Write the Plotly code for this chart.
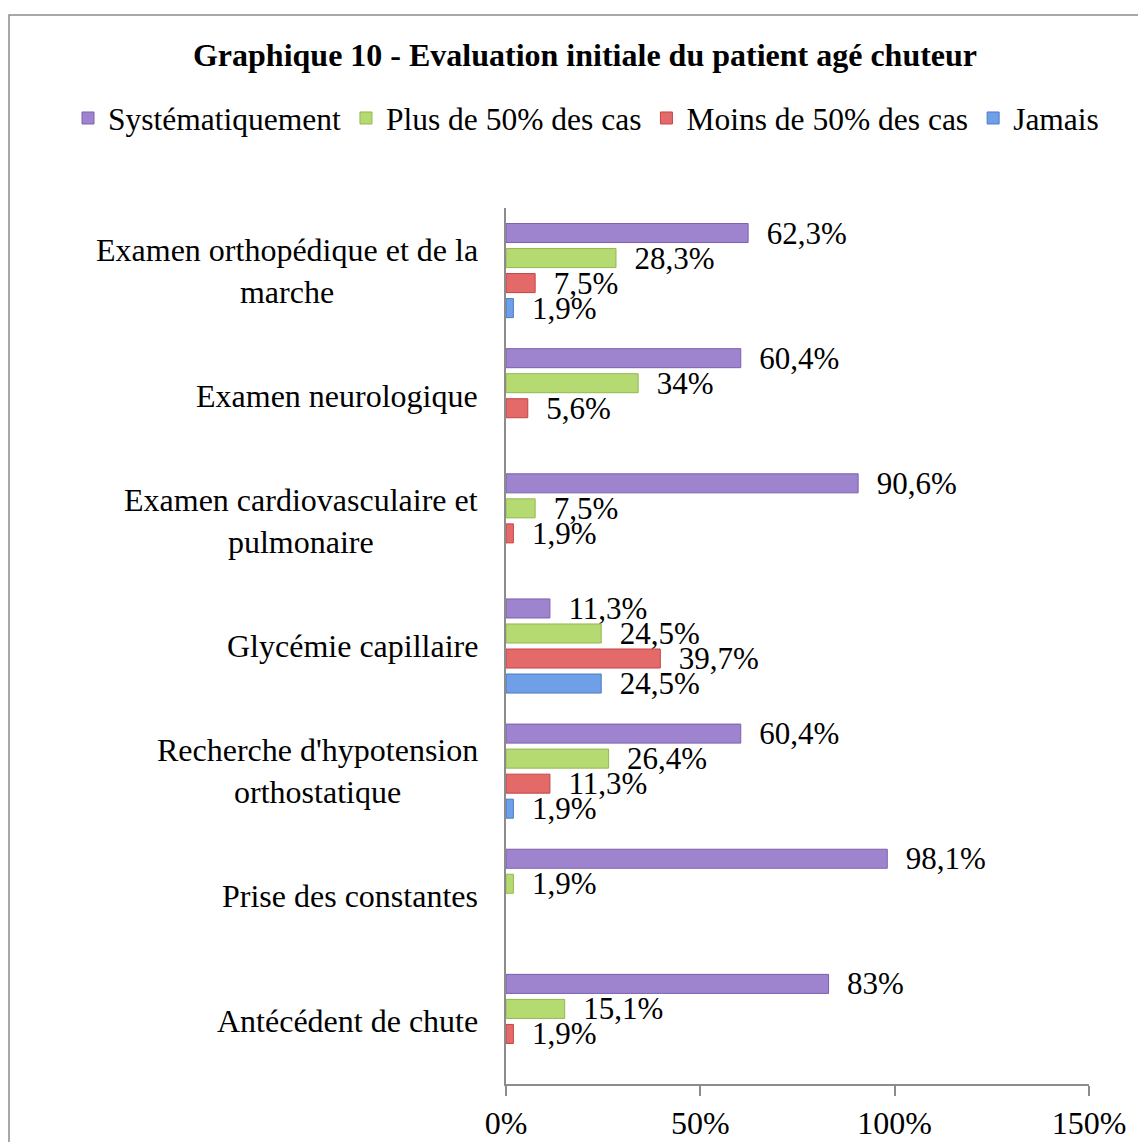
import plotly.graph_objects as go

categories = [
    "Examen orthopédique et de la<br>marche",
    "Examen neurologique",
    "Examen cardiovasculaire et<br>pulmonaire",
    "Glycémie capillaire",
    "Recherche d'hypotension<br>orthostatique",
    "Prise des constantes",
    "Antécédent de chute",
]
series_names = ["Systématiquement", "Plus de 50% des cas", "Moins de 50% des cas", "Jamais"]
systematiquement = [62.3, 60.4, 90.6, 11.3, 60.4, 98.1, 83]
plus_50 = [28.3, 34, 7.5, 24.5, 26.4, 1.9, 15.1]
moins_50 = [7.5, 5.6, 1.9, 39.7, 11.3, None, 1.9]
jamais = [1.9, None, None, 24.5, 1.9, None, None]
x_tick_vals = [0, 50, 100, 150]
x_tick_text = ["0%", "50%", "100%", "150%"]

colors = ["#9E84CF", "#B6DA72", "#E46A6A", "#6F9FE6"]
line_colors = ["#7D60AE", "#93B84F", "#C24545", "#4A7CC6"]

FONT = "Liberation Serif, Times New Roman, serif"
FS = 32

# plot area (figure px)
L, R, T, B = 498, 65, 200, 66
W, H = 1146, 1142
PW = W - L - R
PH = H - T - B

def fmt(v):
    if v is None:
        return ""
    return "\u00a0\u00a0" + f"{v:g}".replace(".", ",") + "%"

fig = go.Figure()
for name, vals, c, lc in zip(series_names, [systematiquement, plus_50, moins_50, jamais], colors, line_colors):
    fig.add_trace(go.Bar(
        name=name, y=categories, x=vals, orientation="h",
        marker=dict(color=c, line=dict(color=lc, width=1)),
        text=[fmt(v) for v in vals], textposition="outside",
        textfont=dict(family=FONT, size=31, color="#000000"),
        constraintext="none", cliponaxis=False,
    ))

fig.update_layout(
    width=W, height=H,
    barmode="group", bargap=0.2, bargroupgap=0.24,
    paper_bgcolor="white", plot_bgcolor="white",
    margin=dict(l=L, r=R, t=T, b=B, autoexpand=False),
    font=dict(family=FONT, size=FS, color="#000000"),
    title=dict(text="<b>Graphique 10 - Evaluation initiale du patient agé chuteur</b>",
               font=dict(family=FONT, size=FS, color="#000000"),
               x=577 / W, xref="container", xanchor="center",
               y=1 - 47 / H, yref="container", yanchor="middle"),
    legend=dict(orientation="h", traceorder="normal",
                x=(60 - L) / PW, xref="paper", xanchor="left",
                y=(H - B - 110) / PH, yref="paper", yanchor="middle",
                font=dict(family=FONT, size=31.5, color="#000000"),
                itemwidth=30, tracegroupgap=0),
    showlegend=True,
    xaxis=dict(range=[0, 150], tickvals=x_tick_vals, ticktext=x_tick_text,
               showgrid=False, zeroline=False, showline=True, linecolor="#8C8C8C", linewidth=2,
               ticks="outside", ticklen=10, tickwidth=2, tickcolor="#8C8C8C",
               tickfont=dict(family=FONT, size=FS, color="#000000")),
    yaxis=dict(autorange="reversed", showgrid=False, zeroline=False, showline=True,
               linecolor="#8C8C8C", linewidth=2, showticklabels=False, ticks=""),
)

for cat in categories:
    fig.add_annotation(text=cat, x=0, xref="paper", xanchor="right", xshift=-26,
                       y=cat, yref="y", yanchor="middle", showarrow=False, align="center",
                       font=dict(family=FONT, size=FS, color="#000000"))

fig.add_shape(type="rect", xref="paper", yref="paper",
              x0=(1 - L) / PW, x1=(W + 20 - L) / PW,
              y0=-0.2, y1=(H - B - 7) / PH,
              line=dict(color="#8C8C8C", width=1.5), layer="below")

fig.write_html("out.html")
